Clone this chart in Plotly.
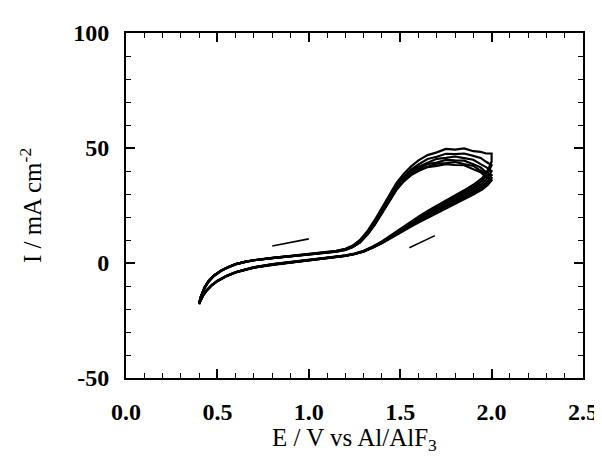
import plotly.graph_objects as go

# Potential grids (V vs Al/AlF3)
fwd_E = [0.40, 0.41, 0.43, 0.45, 0.48, 0.52, 0.56, 0.60, 0.65, 0.70, 0.80, 0.90, 1.00,
         1.10, 1.15, 1.20, 1.24, 1.28, 1.32, 1.36, 1.40, 1.44, 1.48, 1.52, 1.56, 1.60,
         1.65, 1.70, 1.75, 1.80, 1.85, 1.90, 1.94, 1.97, 2.00]
rev_E = [2.00, 1.98, 1.95, 1.90, 1.85, 1.80, 1.75, 1.70, 1.65, 1.60, 1.55, 1.50, 1.45,
         1.40, 1.35, 1.30, 1.25, 1.20, 1.10, 1.00, 0.90, 0.80, 0.70, 0.65, 0.60, 0.55,
         0.50, 0.47, 0.44, 0.42, 0.40]

# Current density (mA cm^-2), anodic (forward) sweeps per cycle
fwd_c1 = [-18.0, -15.0, -11.0, -8.4, -5.8, -3.5, -1.9, -0.6, 0.4, 1.2, 2.2, 3.0, 3.8,
          4.7, 5.3, 6.2, 7.6, 10.0, 13.8, 18.6, 24.0, 29.8, 34.8, 38.8, 42.0, 44.6,
          46.9, 48.1, 49.6, 49.3, 49.8, 48.6, 48.3, 47.6, 47.6]
fwd_c2 = [-17.8, -14.8, -10.8, -8.2, -5.6, -3.4, -1.8, -0.5, 0.5, 1.3, 2.2, 3.0, 3.8,
          4.6, 5.2, 6.0, 7.3, 9.6, 13.2, 17.8, 23.2, 28.9, 33.8, 37.6, 40.6, 42.9,
          45.2, 46.2, 47.5, 47.3, 47.6, 46.6, 45.7, 44.0, 42.5]
fwd_c3 = [-17.6, -14.6, -10.7, -8.1, -5.6, -3.4, -1.8, -0.5, 0.5, 1.2, 2.1, 2.9, 3.7,
          4.5, 5.1, 5.9, 7.1, 9.3, 12.8, 17.3, 22.6, 28.2, 33.0, 36.8, 39.8, 41.9,
          43.6, 45.3, 45.7, 46.3, 45.6, 44.9, 43.0, 41.7, 40.0]
fwd_c4 = [-17.5, -14.5, -10.6, -8.0, -5.5, -3.3, -1.7, -0.5, 0.5, 1.2, 2.1, 2.9, 3.7,
          4.5, 5.0, 5.8, 7.0, 9.1, 12.6, 17.0, 22.2, 27.7, 32.5, 36.3, 39.1, 41.0,
          43.0, 43.7, 44.8, 44.6, 44.5, 42.9, 41.6, 39.4, 38.2]
fwd_c5 = [-17.4, -14.4, -10.5, -8.0, -5.5, -3.3, -1.7, -0.5, 0.5, 1.2, 2.1, 2.9, 3.6,
          4.4, 4.9, 5.7, 6.9, 9.0, 12.4, 16.7, 21.8, 27.3, 32.1, 35.8, 38.6, 40.4,
          41.8, 43.2, 43.4, 43.9, 43.0, 42.2, 40.1, 38.8, 37.0]
fwd_c6 = [-17.5, -14.5, -10.5, -8.0, -5.5, -3.3, -1.7, -0.5, 0.5, 1.2, 2.1, 2.9, 3.6,
          4.4, 4.9, 5.7, 6.9, 9.0, 12.3, 16.5, 21.5, 27.0, 31.8, 35.5, 38.2, 40.0,
          41.7, 42.2, 43.0, 42.6, 42.5, 40.8, 39.5, 37.4, 36.0]

# Cathodic (reverse) sweeps per cycle
rev_c1 = [44.0, 40.5, 37.0, 34.0, 31.6, 29.4, 27.2, 25.0, 22.6, 20.1, 17.5, 14.8, 12.0,
          9.4, 7.2, 5.3, 4.1, 3.3, 2.3, 1.4, 0.5, -0.5, -1.8, -2.7, -3.9, -5.5,
          -7.7, -9.5, -11.9, -14.1, -18.0]
rev_c2 = [42.5, 39.0, 35.8, 33.0, 30.7, 28.6, 26.4, 24.2, 21.9, 19.5, 17.0, 14.4, 11.7,
          9.2, 7.0, 5.2, 4.0, 3.2, 2.2, 1.3, 0.4, -0.6, -1.9, -2.8, -4.0, -5.6,
          -7.8, -9.6, -12.0, -14.3, -17.8]
rev_c3 = [40.0, 37.2, 34.6, 32.1, 29.9, 27.8, 25.7, 23.6, 21.4, 19.0, 16.6, 14.0, 11.4,
          9.0, 6.9, 5.1, 3.9, 3.2, 2.2, 1.3, 0.4, -0.6, -1.9, -2.8, -4.0, -5.6,
          -7.8, -9.6, -12.0, -14.2, -17.6]
rev_c4 = [38.2, 35.8, 33.6, 31.3, 29.2, 27.1, 25.0, 23.0, 20.8, 18.5, 16.1, 13.6, 11.1,
          8.8, 6.8, 5.0, 3.9, 3.2, 2.2, 1.3, 0.4, -0.6, -1.9, -2.8, -4.0, -5.6,
          -7.8, -9.6, -12.0, -14.2, -17.5]
rev_c5 = [37.0, 34.8, 32.7, 30.5, 28.4, 26.4, 24.4, 22.4, 20.3, 18.0, 15.7, 13.3, 10.9,
          8.7, 6.7, 5.0, 3.9, 3.1, 2.1, 1.2, 0.3, -0.7, -2.0, -2.9, -4.1, -5.7,
          -7.9, -9.7, -12.1, -14.3, -17.4]
rev_c6 = [36.0, 34.0, 32.0, 29.8, 27.8, 25.8, 23.8, 21.9, 19.8, 17.6, 15.4, 13.1, 10.8,
          8.6, 6.6, 4.9, 3.8, 3.1, 2.1, 1.2, 0.3, -0.7, -2.0, -2.9, -4.1, -5.7,
          -7.9, -9.6, -12.1, -14.3, -17.5]

# Sweep-direction indicator segments
dir_fwd_E = [0.80, 1.00]
dir_fwd_I = [7.4, 10.5]
dir_rev_E = [1.55, 1.69]
dir_rev_I = [6.6, 11.9]

# Axis tick labels
x_ticks = [0.0, 0.5, 1.0, 1.5, 2.0, 2.5]
x_ticktext = ["0.0", "0.5", "1.0", "1.5", "2.0", "2.5"]
y_ticks = [-50, 0, 50, 100]
y_ticktext = ["-50", "0", "50", "100"]
x_title = "E / V vs Al/AlF<sub>3</sub>"
y_title = "I / mA cm<sup>-2</sup>"

fwd_cycles = [fwd_c1, fwd_c2, fwd_c3, fwd_c4, fwd_c5, fwd_c6]
rev_cycles = [rev_c1, rev_c2, rev_c3, rev_c4, rev_c5, rev_c6]

fig = go.Figure()
for f, r in zip(fwd_cycles, rev_cycles):
    fig.add_trace(go.Scatter(x=fwd_E + rev_E, y=f + r, mode="lines",
                             line=dict(color="black", width=2.2),
                             showlegend=False, hoverinfo="skip"))
for ex, iy in [(dir_fwd_E, dir_fwd_I), (dir_rev_E, dir_rev_I)]:
    fig.add_trace(go.Scatter(x=ex, y=iy, mode="lines",
                             line=dict(color="black", width=1.6),
                             showlegend=False, hoverinfo="skip"))

serif = "Liberation Serif, Times New Roman, serif"
axis_common = dict(
    showline=True, linecolor="black", linewidth=2, mirror="allticks",
    ticks="inside", ticklen=9, tickwidth=1.6, tickcolor="black",
    showgrid=False, zeroline=False,
    tickfont=dict(family=serif, size=24, color="black", weight="bold"),
)

fig.update_xaxes(
    range=[0, 2.5], tickmode="array", tickvals=x_ticks, ticktext=x_ticktext,
    minor=dict(ticks="inside", ticklen=5, tickwidth=1.3, tickcolor="black", dtick=0.1),
    ticklabelstandoff=11,
    **axis_common,
)
fig.update_yaxes(
    range=[-50, 100], tickmode="array", tickvals=y_ticks, ticktext=y_ticktext,
    minor=dict(ticks="inside", ticklen=5, tickwidth=1.3, tickcolor="black", dtick=10),
    ticklabelstandoff=10,
    title=dict(text=y_title, font=dict(family=serif, size=25, color="black"),
               standoff=24),
    **axis_common,
)

fig.add_annotation(
    text=x_title, xref="paper", yref="paper", x=0.5, y=-0.228,
    xanchor="center", yanchor="bottom", showarrow=False,
    font=dict(family=serif, size=25, color="black"),
)

fig.update_layout(
    width=602, height=458,
    margin=dict(l=118, r=23, t=20, b=88),
    plot_bgcolor="white", paper_bgcolor="white",
)

fig.write_html("out.html")
